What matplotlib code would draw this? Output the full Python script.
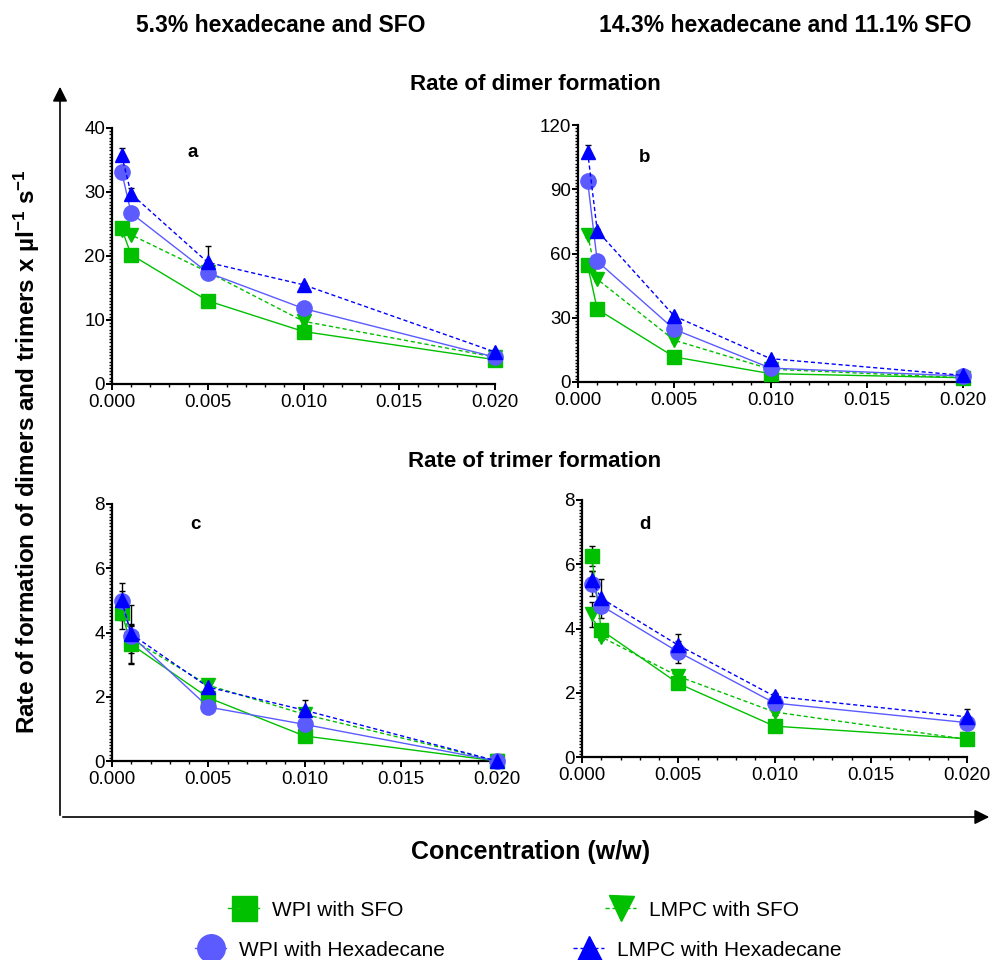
import numpy as np
import matplotlib
matplotlib.use("Agg")
import matplotlib.pyplot as plt
from matplotlib.ticker import MultipleLocator, FormatStrFormatter
from matplotlib.patches import FancyArrowPatch

plt.rcParams['font.family'] = ['Liberation Sans', 'DejaVu Sans']
plt.rcParams['mathtext.fontset'] = 'custom'
plt.rcParams['mathtext.rm'] = 'Liberation Sans'
plt.rcParams['mathtext.bf'] = 'Liberation Sans:bold'
plt.rcParams['mathtext.default'] = 'bf'

#%% data
conc = [0.0005, 0.001, 0.005, 0.010, 0.020]

# a: dimers, 5.3% hexadecane and SFO
a_wpi_sfo = [24.3, 20.2, 13.0, 8.2, 3.8]
a_lmpc_sfo = [24.0, 23.3, 17.5, 9.8, 4.2]
a_wpi_hex = [33.2, 26.7, 17.4, 11.8, 4.2]
a_lmpc_hex = [35.8, 29.7, 19.0, 15.5, 5.0]
a_wpi_sfo_err = [0.4, 0.4, 0.4, 0.4, 0.3]
a_lmpc_sfo_err = [0.4, 0.4, 0.4, 0.4, 0.3]
a_wpi_hex_err = [0.5, 0.4, 0.8, 0.3, 0.2]
a_lmpc_hex_err = [1.0, 1.0, 2.5, 0.3, 0.3]

# b: dimers, 14.3% hexadecane and 11.1% SFO
b_wpi_sfo = [54.5, 34.0, 11.7, 3.9, 2.0]
b_lmpc_sfo = [68.8, 48.0, 19.5, 6.0, 2.0]
b_wpi_hex = [93.8, 56.4, 24.6, 6.5, 2.8]
b_lmpc_hex = [107.5, 70.6, 30.8, 10.9, 3.1]
b_wpi_sfo_err = [1.0, 1.0, 1.0, 0.5, 0.3]
b_lmpc_sfo_err = [1.0, 1.0, 1.0, 0.5, 0.3]
b_wpi_hex_err = [1.5, 1.0, 1.0, 0.5, 0.3]
b_lmpc_hex_err = [3.0, 1.0, 1.0, 1.0, 0.5]

# c: trimers, 5.3% hexadecane and SFO
c_wpi_sfo = [4.61, 3.63, 1.97, 0.78, 0.0]
c_lmpc_sfo = [4.70, 3.80, 2.36, 1.45, 0.0]
c_wpi_hex = [4.98, 3.90, 1.68, 1.14, 0.0]
c_lmpc_hex = [5.00, 3.95, 2.30, 1.58, 0.0]
c_wpi_sfo_err = [0.50, 0.60, 0.10, 0.05, 0.0]
c_lmpc_sfo_err = [0.30, 0.45, 0.20, 0.10, 0.0]
c_wpi_hex_err = [0.57, 0.30, 0.05, 0.05, 0.0]
c_lmpc_hex_err = [0.30, 0.90, 0.25, 0.33, 0.0]

# d: trimers, 14.3% hexadecane and 11.1% SFO
d_wpi_sfo = [6.26, 3.95, 2.29, 0.96, 0.57]
d_lmpc_sfo = [4.44, 3.74, 2.51, 1.40, 0.55]
d_wpi_hex = [5.40, 4.71, 3.27, 1.68, 1.07]
d_lmpc_hex = [5.50, 4.94, 3.48, 1.89, 1.25]
d_wpi_sfo_err = [0.32, 0.15, 0.10, 0.10, 0.15]
d_lmpc_sfo_err = [0.40, 0.10, 0.10, 0.10, 0.05]
d_wpi_hex_err = [0.40, 0.20, 0.35, 0.10, 0.10]
d_lmpc_hex_err = [0.30, 0.60, 0.35, 0.10, 0.25]

series_labels = ['WPI with SFO', 'LMPC with SFO', 'WPI with Hexadecane', 'LMPC with Hexadecane']

#%% styles
green = '#00C000'
lav = '#5B5BFF'
blue = '#0000FF'
styles = [dict(color=green, marker='s', ls='-', ms=10),
          dict(color=green, marker='v', ls=(0, (3, 2)), ms=10),
          dict(color=lav, marker='o', ls='-', ms=11),
          dict(color=blue, marker='^', ls=(0, (3, 2)), ms=10)]

W, H = 992, 960
fig = plt.figure(figsize=(W / 100, H / 100), dpi=100)


def px_box(l, r, t, b):
    return [l / W, 1 - b / H, (r - l) / W, (b - t) / H]


def panel(box, ys, errs, ymax, ystep, yminor, letter, lpos):
    ax = fig.add_axes(box)
    handles = []
    for y, e, st in zip(ys, errs, styles):
        ax.errorbar(conc, y, yerr=e, fmt='none', ecolor='black', elinewidth=1,
                    capsize=2.5, capthick=1, clip_on=False, zorder=2)
        h, = ax.plot(conc, y, color=st['color'], ls=st['ls'], lw=1,
                     marker=st['marker'], ms=st['ms'], mec=st['color'],
                     clip_on=False, zorder=3)
        handles.append(h)
    ax.set_xlim(0, 0.020)
    ax.set_ylim(0, ymax)
    ax.xaxis.set_major_locator(MultipleLocator(0.005))
    ax.xaxis.set_minor_locator(MultipleLocator(0.001))
    ax.xaxis.set_major_formatter(FormatStrFormatter('%.3f'))
    ax.yaxis.set_major_locator(MultipleLocator(ystep))
    ax.yaxis.set_minor_locator(MultipleLocator(yminor))
    for s in ['top', 'right']:
        ax.spines[s].set_visible(False)
    for s in ['left', 'bottom']:
        ax.spines[s].set_linewidth(1.6)
    ax.tick_params(which='major', direction='out', length=4, width=1.4,
                   labelsize=13.5, pad=1)
    ax.tick_params(axis='x', which='major', pad=3.5)
    ax.tick_params(which='minor', direction='out', length=2.5, width=1)
    ax.text(lpos[0], lpos[1], letter, transform=ax.transAxes, fontsize=13.5,
            fontweight='bold', ha='center', va='center')
    return handles


hs = panel(px_box(112, 495, 128, 384),
           [a_wpi_sfo, a_lmpc_sfo, a_wpi_hex, a_lmpc_hex],
           [a_wpi_sfo_err, a_lmpc_sfo_err, a_wpi_hex_err, a_lmpc_hex_err],
           40, 10, 0.5, 'a', (0.21, 0.906))
panel(px_box(578, 963, 125, 382),
      [b_wpi_sfo, b_lmpc_sfo, b_wpi_hex, b_lmpc_hex],
      [b_wpi_sfo_err, b_lmpc_sfo_err, b_wpi_hex_err, b_lmpc_hex_err],
      120, 30, 1.5, 'b', (0.174, 0.875))
panel(px_box(112, 497, 504, 761),
      [c_wpi_sfo, c_lmpc_sfo, c_wpi_hex, c_lmpc_hex],
      [c_wpi_sfo_err, c_lmpc_sfo_err, c_wpi_hex_err, c_lmpc_hex_err],
      8, 2, 0.1, 'c', (0.216, 0.922))
panel(px_box(582, 967, 500, 757),
      [d_wpi_sfo, d_lmpc_sfo, d_wpi_hex, d_lmpc_hex],
      [d_wpi_sfo_err, d_lmpc_sfo_err, d_wpi_hex_err, d_lmpc_hex_err],
      8, 2, 0.1, 'd', (0.164, 0.903))

#%% headings and axis titles
fig.text(281 / W, 1 - 26 / H, '5.3% hexadecane and SFO', fontsize=16.5,
         fontweight='bold', ha='center', va='center')
fig.text(785 / W, 1 - 26 / H, '14.3% hexadecane and 11.1% SFO', fontsize=16.5,
         fontweight='bold', ha='center', va='center')
fig.text(535 / W, 1 - 85 / H, 'Rate of dimer formation', fontsize=16,
         fontweight='bold', ha='center', va='center')
fig.text(535 / W, 1 - 462 / H, 'Rate of trimer formation', fontsize=16,
         fontweight='bold', ha='center', va='center')
fig.text(27 / W, 1 - 452 / H,
         r'Rate of formation of dimers and trimers x µl$^{-1}$ s$^{-1}$',
         fontsize=17.5, fontweight='bold', rotation=90, ha='center', va='center')
fig.text(531 / W, 1 - 852 / H, 'Concentration (w/w)', fontsize=18,
         fontweight='bold', ha='center', va='center')

# big outer arrows
fig.add_artist(FancyArrowPatch((60 / W, 1 - 818 / H), (60 / W, 1 - 84 / H),
                               transform=fig.transFigure, arrowstyle='-|>',
                               mutation_scale=22, lw=1.2, color='black'))
fig.add_artist(FancyArrowPatch((60 / W, 1 - 817 / H), (992 / W, 1 - 817 / H),
                               transform=fig.transFigure, arrowstyle='-|>',
                               mutation_scale=22, lw=1.2, color='black'))

#%% legend, one entry at a time
leg_pos = [(228, 910), (605, 910), (195, 950), (573, 950)]
for h, lab, (lx, ly) in zip(hs, series_labels, leg_pos):
    fig.legend([h], [lab], loc='center left', bbox_to_anchor=(lx / W, 1 - ly / H),
               frameon=False, fontsize=15, markerscale=1.8, handlelength=1.5,
               handletextpad=0.6, borderpad=0, borderaxespad=0)

fig.savefig('out.png', dpi=100)
